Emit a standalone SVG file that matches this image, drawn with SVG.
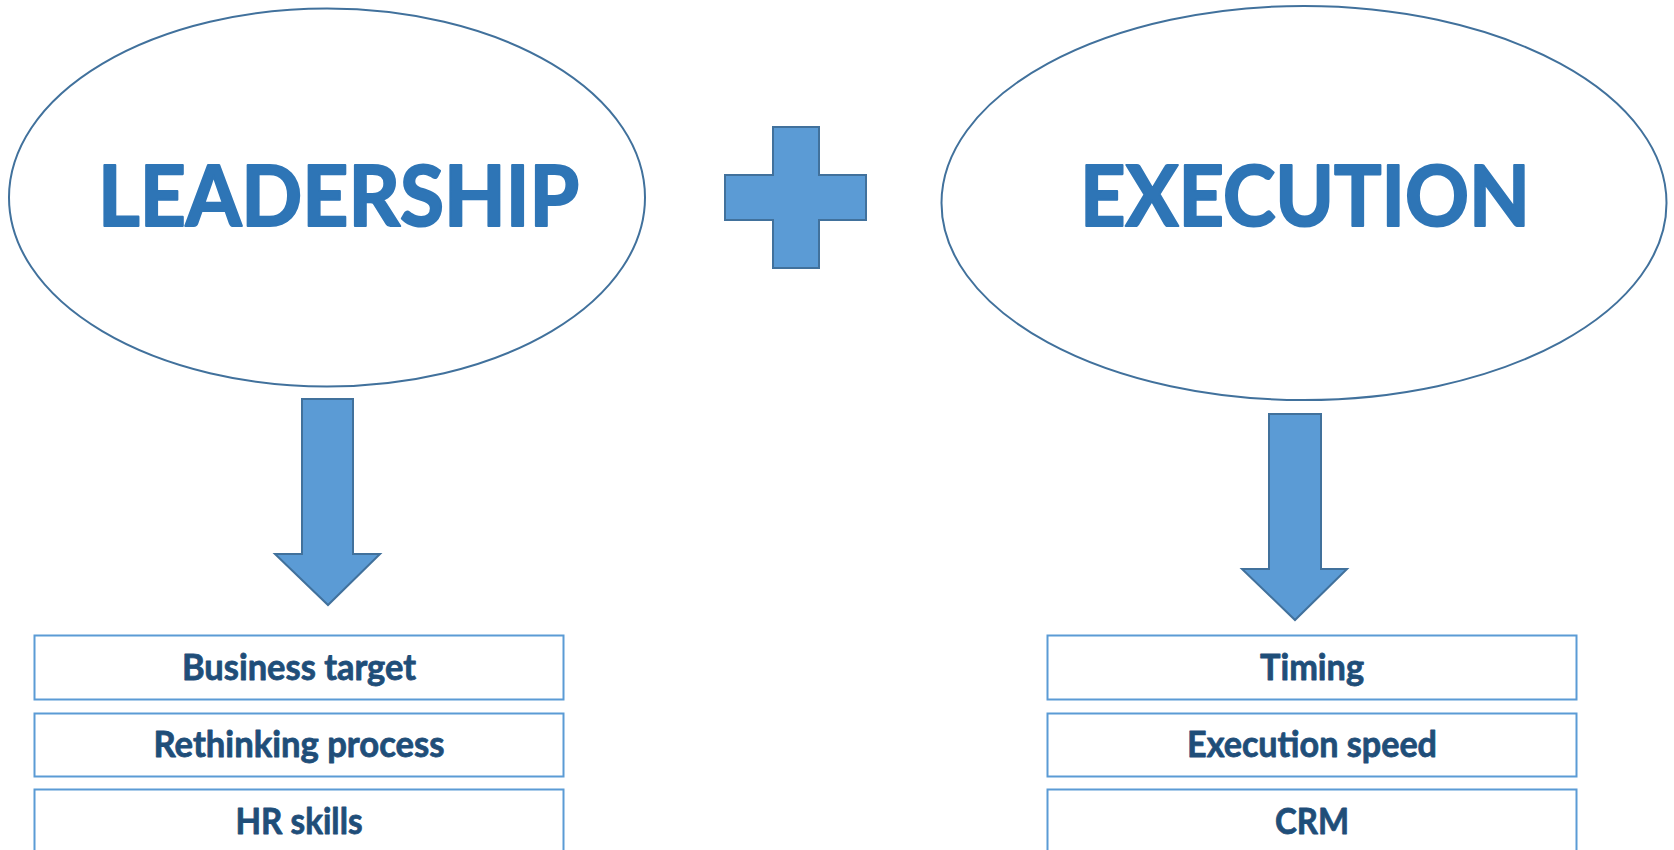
<svg xmlns="http://www.w3.org/2000/svg" width="1674" height="850" viewBox="0 0 1674 850">
<style>
.ell{fill:#FFFFFF;stroke:#41719C;stroke-width:2}
.shape{fill:#5B9BD5;stroke:#41719C;stroke-width:2;stroke-linejoin:miter}
.box{fill:#FFFFFF;stroke:#5B9BD5;stroke-width:2}
.big{font-family:"Lato","Open Sans","Liberation Sans",sans-serif;font-weight:700;font-size:84px;fill:#2E75B6;stroke:#2E75B6;stroke-width:2.2;stroke-linejoin:round;text-anchor:middle}
.item{font-family:"Lato","Open Sans","Liberation Sans",sans-serif;font-weight:700;font-size:36px;fill:#1F4E79;stroke:#1F4E79;stroke-width:0.8;stroke-linejoin:round;text-anchor:middle}
</style>
<rect width="1674" height="850" fill="#FFFFFF"/>
<g id="leadership">
<ellipse class="ell" cx="327" cy="197.5" rx="318" ry="189"/>
<text class="big" x="338.5" y="226" textLength="481" lengthAdjust="spacingAndGlyphs">LEADERSHIP</text>
</g>
<g id="plus">
<path class="shape" d="M773,127 H819 V175 H866 V220 H819 V268 H773 V220 H725 V175 H773 Z"/>
</g>
<g id="execution">
<ellipse class="ell" cx="1304" cy="203" rx="362.5" ry="197"/>
<text class="big" x="1305" y="226" textLength="450" lengthAdjust="spacingAndGlyphs">EXECUTION</text>
</g>
<g id="connectors">
<path class="shape" d="M302,399 H353 V554 H380 L328,605 L275,554 H302 Z"/>
<path class="shape" d="M1269,414 H1321 V569 H1347 L1295,620 L1242,569 H1269 Z"/>
</g>
<g id="business-target">
<rect class="box" x="34.5" y="635.5" width="529" height="64"/>
<text class="item" x="299" y="680" textLength="234" lengthAdjust="spacingAndGlyphs">Business target</text>
</g>
<g id="rethinking-process">
<rect class="box" x="34.5" y="713.5" width="529" height="63"/>
<text class="item" x="299" y="757" textLength="291" lengthAdjust="spacingAndGlyphs">Rethinking process</text>
</g>
<g id="hr-skills">
<rect class="box" x="34.5" y="789.5" width="529" height="70"/>
<text class="item" x="299" y="834" textLength="127" lengthAdjust="spacingAndGlyphs">HR skills</text>
</g>
<g id="timing">
<rect class="box" x="1047.5" y="635.5" width="529" height="64"/>
<text class="item" x="1312" y="680" textLength="104" lengthAdjust="spacingAndGlyphs">Timing</text>
</g>
<g id="execution-speed">
<rect class="box" x="1047.5" y="713.5" width="529" height="63"/>
<text class="item" x="1312" y="757" textLength="250" lengthAdjust="spacingAndGlyphs">Execution speed</text>
</g>
<g id="crm">
<rect class="box" x="1047.5" y="789.5" width="529" height="70"/>
<text class="item" x="1312" y="834" textLength="74" lengthAdjust="spacingAndGlyphs">CRM</text>
</g>
</svg>
